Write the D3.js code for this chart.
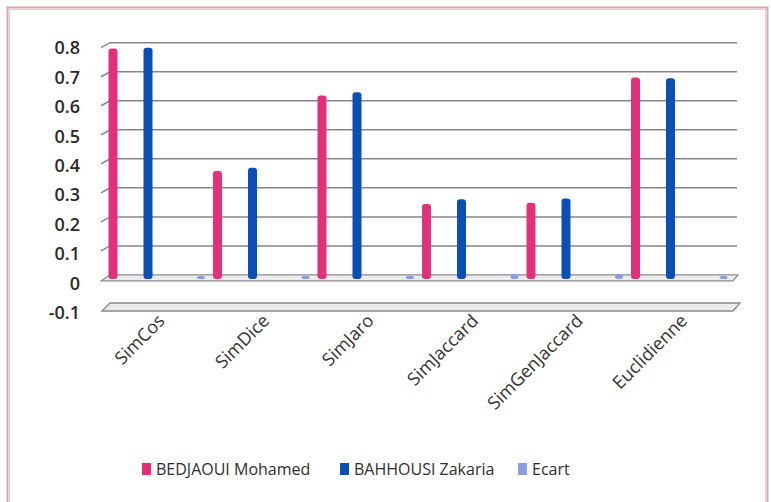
<!DOCTYPE html>
<html>
<head>
<meta charset="utf-8">
<script src="https://cdn.jsdelivr.net/npm/d3@7"></script>
<style>
  body { margin: 0; background: #fff; }
  svg { display: block; font-family: "Open Sans", sans-serif; }
</style>
</head>
<body>
<div id="chart"></div>
<script>
'use strict';

// data
var categories = ['SimCos', 'SimDice', 'SimJaro', 'SimJaccard', 'SimGenJaccard', 'Euclidienne'];
var bedjaoui = [0.787, 0.369, 0.626, 0.256, 0.260, 0.688];
var bahhousi = [0.789, 0.380, 0.637, 0.272, 0.275, 0.685];
var ecart    = [0.002, 0.011, 0.011, 0.016, 0.015, 0.003];
var seriesNames = ['BEDJAOUI Mohamed', 'BAHHOUSI Zakaria', 'Ecart'];
var yTicks = [-0.1, 0, 0.1, 0.2, 0.3, 0.4, 0.5, 0.6, 0.7, 0.8];

var width = 771, height = 502;
var colors = { 'BEDJAOUI Mohamed': '#e2317a', 'BAHHOUSI Zakaria': '#0a4fb6', 'Ecart': '#8a9be2' };

var svg = d3.select('#chart').append('svg')
  .attr('width', width)
  .attr('height', height);

// outer frame
svg.append('rect')
  .attr('x', 7.5).attr('y', 7.5)
  .attr('width', 760).attr('height', 520)
  .attr('fill', 'none')
  .attr('stroke', '#dca6a8')
  .attr('stroke-width', 2);
svg.append('rect')
  .attr('x', 9.5).attr('y', 9.5)
  .attr('width', 756).attr('height', 520)
  .attr('fill', 'none')
  .attr('stroke', '#d6d6d6')
  .attr('stroke-width', 1);

// three y scales: back wall (gridlines), front (labels), bars - fake 3d perspective
var domain = [-0.1, 0.8];
var yBack  = d3.scaleLinear().domain(domain).range([304, 42.7]);
var yFront = d3.scaleLinear().domain(domain).range([312.4, 48]);
var yBar   = d3.scaleLinear().domain(domain).range([308.3, 44.6]);

var x = d3.scaleBand().domain(categories).range([105, 732]);
// where each series sits inside its band
var inner = d3.scaleOrdinal().domain(seriesNames).range([8, 43, 96]);
var labelOffset = 52;

// gridlines with slanted left edge
var grid = svg.append('g');
yTicks.filter(function(t){ return t > -0.05; }).forEach(function(t){
  var y = yBack(t);
  if (t === 0) {
    // thin floor plate at zero
    grid.append('path')
      .attr('d', 'M101,' + (y + 6) + ' L110,' + y + ' L738,' + y + ' L733,' + (y + 6) + ' Z')
      .attr('fill', '#ececec')
      .attr('stroke', '#8a8a8a')
      .attr('stroke-width', 1.2);
  } else {
    grid.append('path')
      .attr('d', 'M101,' + (y + 5) + ' L110,' + y + ' L737,' + y)
      .attr('fill', 'none')
      .attr('stroke', '#868686')
      .attr('stroke-width', 1.5);
  }
});

// floor at -0.1
var fy = yBack(-0.1);
svg.append('path')
  .attr('d', 'M102,' + (fy + 7) + ' L110,' + (fy - 1) + ' L740,' + (fy - 1) + ' L733,' + (fy + 7) + ' Z')
  .attr('fill', '#ebebeb')
  .attr('stroke', '#8a8a8a')
  .attr('stroke-width', 1.3);

// y labels (plain hyphen for the minus sign, like the original)
svg.append('g').selectAll('text').data(yTicks)
  .enter().append('text')
  .attr('x', 80)
  .attr('y', function(d){ return yFront(d); })
  .attr('dy', '0.36em')
  .attr('text-anchor', 'end')
  .attr('font-size', 18)
  .attr('font-weight', 600)
  .attr('fill', '#2a2a2a')
  .text(function(d){ return String(d); });

// bars
var rows = [];
categories.forEach(function(c, i){
  rows.push({ cat: c, series: seriesNames[0], value: bedjaoui[i] });
  rows.push({ cat: c, series: seriesNames[1], value: bahhousi[i] });
  rows.push({ cat: c, series: seriesNames[2], value: ecart[i] });
});

svg.append('g').selectAll('rect').data(rows)
  .enter().append('rect')
  .attr('x', function(d){
    var w = d.series === 'Ecart' ? 8 : 9;
    return x(d.cat) + inner(d.series) - w / 2;
  })
  .attr('width', function(d){ return d.series === 'Ecart' ? 8 : 9; })
  .attr('y', function(d){ return Math.min(yBar(d.value), yBar(0) - 3); })
  .attr('height', function(d){ return Math.max(yBar(0) - yBar(d.value), 3); })
  .attr('rx', 3)
  .attr('fill', function(d){ return colors[d.series]; });

// category labels
svg.append('g').selectAll('text').data(categories)
  .enter().append('text')
  .attr('transform', function(d){
    return 'translate(' + (x(d) + labelOffset) + ',313) rotate(-45)';
  })
  .attr('dy', '0.7em')
  .attr('text-anchor', 'end')
  .attr('font-size', 18)
  .attr('fill', '#333')
  .text(function(d){ return d; });

// legend
var legendX = [142, 340, 518];
var legend = svg.append('g').selectAll('g').data(seriesNames)
  .enter().append('g')
  .attr('transform', function(d, i){ return 'translate(' + legendX[i] + ',463)'; });
legend.append('rect')
  .attr('width', 9).attr('height', 12)
  .attr('fill', function(d){ return colors[d]; });
legend.append('text')
  .attr('x', 14).attr('y', 6)
  .attr('dy', '0.36em')
  .attr('font-size', 16)
  .attr('fill', '#2e2e2e')
  .text(function(d){ return d; });
</script>
</body>
</html>
